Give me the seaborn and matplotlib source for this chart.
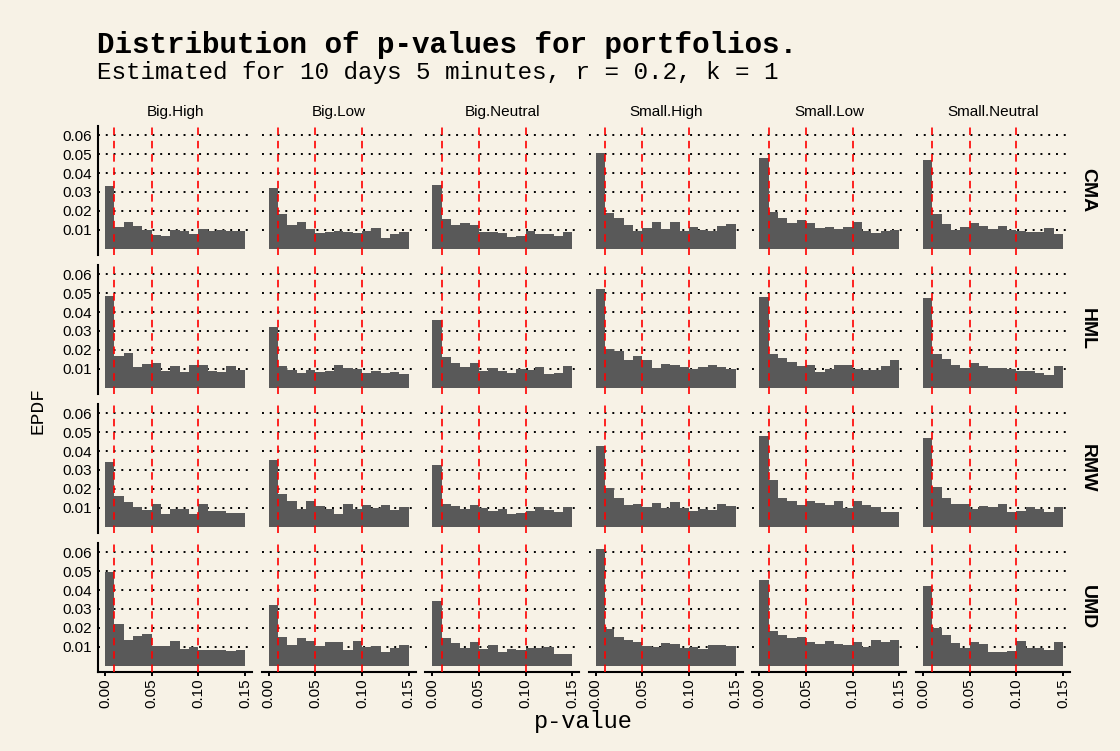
import matplotlib

matplotlib.use("Agg")

import matplotlib.pyplot as plt
import numpy as np
import pandas as pd
import seaborn as sns

BG = "#F7F2E6"
BAR = "#595959"
MONO = ["Liberation Mono", "DejaVu Sans Mono"]
SANS = ["Liberation Sans", "DejaVu Sans"]

PORTFOLIOS = ["Big.High", "Big.Low", "Big.Neutral", "Small.High", "Small.Low", "Small.Neutral"]
FACTORS = ["CMA", "HML", "RMW", "UMD"]
BIN_EDGES = [0.00, 0.01, 0.02, 0.03, 0.04, 0.05, 0.06, 0.07, 0.08,
             0.09, 0.10, 0.11, 0.12, 0.13, 0.14, 0.15]
CUTOFFS = [0.01, 0.05, 0.10]
Y_TICKS = [0.01, 0.02, 0.03, 0.04, 0.05, 0.06]
X_TICKS = [0.00, 0.05, 0.10, 0.15]
X_LABELS = ["0.00", "0.05", "0.10", "0.15"]

# epdf per bin (bins of width 0.01 from 0 to 0.15)
CMA_BIG_HIGH = [0.0331, 0.0114, 0.0141, 0.0120, 0.0099, 0.0072, 0.0067, 0.0099,
                0.0093, 0.0077, 0.0104, 0.0093, 0.0099, 0.0093, 0.0093]
CMA_BIG_LOW = [0.0320, 0.0183, 0.0125, 0.0141, 0.0104, 0.0083, 0.0088, 0.0093,
               0.0088, 0.0083, 0.0093, 0.0109, 0.0056, 0.0077, 0.0088]
CMA_BIG_NEUTRAL = [0.0336, 0.0157, 0.0125, 0.0136, 0.0125, 0.0088, 0.0088, 0.0083,
                   0.0062, 0.0067, 0.0093, 0.0077, 0.0077, 0.0067, 0.0088]
CMA_SMALL_HIGH = [0.0505, 0.0188, 0.0162, 0.0125, 0.0093, 0.0109, 0.0141, 0.0104,
                  0.0141, 0.0093, 0.0114, 0.0099, 0.0093, 0.0120, 0.0130]
CMA_SMALL_LOW = [0.0479, 0.0194, 0.0162, 0.0136, 0.0151, 0.0136, 0.0109, 0.0114,
                 0.0104, 0.0114, 0.0141, 0.0093, 0.0083, 0.0093, 0.0099]
CMA_SMALL_NEUTRAL = [0.0468, 0.0183, 0.0130, 0.0099, 0.0114, 0.0136, 0.0120, 0.0104,
                     0.0120, 0.0099, 0.0093, 0.0088, 0.0088, 0.0109, 0.0077]

HML_BIG_HIGH = [0.0484, 0.0167, 0.0183, 0.0109, 0.0125, 0.0130, 0.0088, 0.0114,
                0.0083, 0.0120, 0.0120, 0.0088, 0.0083, 0.0114, 0.0093]
HML_BIG_LOW = [0.0320, 0.0114, 0.0093, 0.0077, 0.0093, 0.0083, 0.0088, 0.0120,
               0.0104, 0.0099, 0.0077, 0.0088, 0.0077, 0.0083, 0.0072]
HML_BIG_NEUTRAL = [0.0357, 0.0162, 0.0130, 0.0109, 0.0130, 0.0088, 0.0104, 0.0088,
                   0.0077, 0.0099, 0.0093, 0.0109, 0.0072, 0.0077, 0.0114]
HML_SMALL_HIGH = [0.0521, 0.0204, 0.0194, 0.0146, 0.0167, 0.0146, 0.0104, 0.0125,
                  0.0120, 0.0109, 0.0099, 0.0109, 0.0120, 0.0109, 0.0099]
HML_SMALL_LOW = [0.0479, 0.0178, 0.0157, 0.0136, 0.0114, 0.0120, 0.0083, 0.0099,
                 0.0120, 0.0120, 0.0099, 0.0093, 0.0093, 0.0114, 0.0146]
HML_SMALL_NEUTRAL = [0.0474, 0.0178, 0.0151, 0.0120, 0.0104, 0.0130, 0.0114, 0.0104,
                     0.0104, 0.0099, 0.0088, 0.0088, 0.0077, 0.0067, 0.0114]

RMW_BIG_HIGH = [0.0342, 0.0162, 0.0130, 0.0104, 0.0088, 0.0120, 0.0067, 0.0093,
                0.0093, 0.0067, 0.0120, 0.0083, 0.0083, 0.0072, 0.0072]
RMW_BIG_LOW = [0.0352, 0.0173, 0.0136, 0.0093, 0.0136, 0.0109, 0.0093, 0.0067,
               0.0120, 0.0093, 0.0114, 0.0099, 0.0114, 0.0088, 0.0104]
RMW_BIG_NEUTRAL = [0.0326, 0.0120, 0.0109, 0.0093, 0.0114, 0.0099, 0.0083, 0.0093,
                   0.0067, 0.0072, 0.0083, 0.0104, 0.0088, 0.0077, 0.0104]
RMW_SMALL_HIGH = [0.0426, 0.0204, 0.0151, 0.0114, 0.0120, 0.0104, 0.0125, 0.0099,
                  0.0130, 0.0099, 0.0083, 0.0093, 0.0088, 0.0120, 0.0109]
RMW_SMALL_LOW = [0.0479, 0.0246, 0.0151, 0.0136, 0.0114, 0.0136, 0.0125, 0.0114,
                 0.0136, 0.0099, 0.0136, 0.0114, 0.0104, 0.0077, 0.0077]
RMW_SMALL_NEUTRAL = [0.0468, 0.0210, 0.0151, 0.0120, 0.0120, 0.0093, 0.0109, 0.0104,
                     0.0120, 0.0077, 0.0083, 0.0104, 0.0093, 0.0077, 0.0104]

UMD_BIG_HIGH = [0.0496, 0.0221, 0.0136, 0.0157, 0.0168, 0.0104, 0.0104, 0.0131,
                0.0088, 0.0100, 0.0083, 0.0083, 0.0083, 0.0078, 0.0083]
UMD_BIG_LOW = [0.0322, 0.0152, 0.0110, 0.0147, 0.0131, 0.0104, 0.0125, 0.0125,
               0.0083, 0.0131, 0.0099, 0.0104, 0.0072, 0.0094, 0.0110]
UMD_BIG_NEUTRAL = [0.0343, 0.0147, 0.0120, 0.0094, 0.0125, 0.0088, 0.0110, 0.0072,
                   0.0088, 0.0083, 0.0094, 0.0094, 0.0099, 0.0062, 0.0062]
UMD_SMALL_HIGH = [0.0618, 0.0194, 0.0152, 0.0136, 0.0125, 0.0104, 0.0099, 0.0120,
                  0.0115, 0.0094, 0.0099, 0.0088, 0.0110, 0.0110, 0.0104]
UMD_SMALL_LOW = [0.0454, 0.0184, 0.0163, 0.0147, 0.0152, 0.0125, 0.0115, 0.0131,
                 0.0115, 0.0110, 0.0125, 0.0099, 0.0136, 0.0125, 0.0136]
UMD_SMALL_NEUTRAL = [0.0422, 0.0200, 0.0163, 0.0120, 0.0094, 0.0125, 0.0115, 0.0072,
                     0.0072, 0.0078, 0.0131, 0.0094, 0.0094, 0.0083, 0.0125]

SERIES = {
    "CMA": [CMA_BIG_HIGH, CMA_BIG_LOW, CMA_BIG_NEUTRAL,
            CMA_SMALL_HIGH, CMA_SMALL_LOW, CMA_SMALL_NEUTRAL],
    "HML": [HML_BIG_HIGH, HML_BIG_LOW, HML_BIG_NEUTRAL,
            HML_SMALL_HIGH, HML_SMALL_LOW, HML_SMALL_NEUTRAL],
    "RMW": [RMW_BIG_HIGH, RMW_BIG_LOW, RMW_BIG_NEUTRAL,
            RMW_SMALL_HIGH, RMW_SMALL_LOW, RMW_SMALL_NEUTRAL],
    "UMD": [UMD_BIG_HIGH, UMD_BIG_LOW, UMD_BIG_NEUTRAL,
            UMD_SMALL_HIGH, UMD_SMALL_LOW, UMD_SMALL_NEUTRAL],
}


def armar_tabla() -> pd.DataFrame:
    centros = (np.array(BIN_EDGES[:-1]) + np.array(BIN_EDGES[1:])) / 2
    filas = []
    for factor in FACTORS:
        for portfolio, valores in zip(PORTFOLIOS, SERIES[factor]):
            for c, v in zip(centros, valores):
                filas.append({"factor": factor, "portfolio": portfolio,
                              "pvalue": c, "epdf": v})
    return pd.DataFrame(filas)


df = armar_tabla()

sns.set_theme(style="white")
plt.rcParams["font.family"] = SANS
plt.rcParams["figure.facecolor"] = BG
plt.rcParams["axes.facecolor"] = BG
plt.rcParams["text.color"] = "black"
plt.rcParams["axes.labelcolor"] = "black"
plt.rcParams["xtick.color"] = "black"
plt.rcParams["ytick.color"] = "black"

g = sns.FacetGrid(df, row="factor", col="portfolio", row_order=FACTORS,
                  col_order=PORTFOLIOS, sharex=True, sharey=True,
                  height=1.285, aspect=154 / 128.5, despine=False)
g.map_dataframe(sns.histplot, x="pvalue", weights="epdf", bins=BIN_EDGES,
                color=BAR, alpha=1, linewidth=0, edgecolor=None)

fig = g.figure
fig.set_size_inches(11.2, 7.51)
fig.subplots_adjust(left=98 / 1120, right=1070 / 1120, top=1 - 126 / 751,
                    bottom=1 - 671.5 / 751, wspace=0.062, hspace=0.0817)

for i, factor in enumerate(FACTORS):
    for j, portfolio in enumerate(PORTFOLIOS):
        ax = g.axes[i, j]
        ax.set_facecolor(BG)
        ax.set_title("")
        ax.set_xlabel("")
        ax.set_ylabel("")
        ax.set_xlim(-0.0075, 0.1575)
        ax.set_ylim(-0.0031, 0.0649)
        ax.set_yticks(Y_TICKS)
        ax.set_xticks(X_TICKS)
        ax.yaxis.grid(True, linestyle=(0, (1, 3)), color="black", linewidth=1.4)
        ax.xaxis.grid(False)
        ax.set_axisbelow(True)
        for x in CUTOFFS:
            ax.axvline(x, color="#FF0000", linestyle=(0, (4.5, 3.5)), linewidth=1.2, zorder=5)
        for lado in ["top", "right", "left", "bottom"]:
            ax.spines[lado].set_visible(False)
        if j == 0:
            ax.spines["left"].set_visible(True)
            ax.spines["left"].set_color("black")
            ax.spines["left"].set_linewidth(1.5)
            ax.set_yticklabels([f"{t:.2f}" for t in Y_TICKS])
            ax.tick_params(axis="y", length=0, pad=4, labelsize=11, labelcolor="black")
        else:
            ax.tick_params(axis="y", length=0, labelleft=False)
        if i == len(FACTORS) - 1:
            ax.spines["bottom"].set_visible(True)
            ax.spines["bottom"].set_color("black")
            ax.spines["bottom"].set_linewidth(1.5)
            ax.set_xticklabels(X_LABELS, rotation=90)
            ax.tick_params(axis="x", bottom=True, length=3, width=1.4, color="black",
                           pad=2, labelsize=11, labelcolor="black")
        else:
            ax.tick_params(axis="x", length=0, labelbottom=False)
        if i == 0:
            ax.set_title(portfolio, fontsize=11, color="black", pad=7, family=SANS)
        if j == len(PORTFOLIOS) - 1:
            ax.text(1.115, 0.5, factor, transform=ax.transAxes, rotation=-90,
                    ha="center", va="center", fontsize=14, fontweight="bold",
                    family=SANS, color="black")

fig.text(97 / 1120, 1 - 53 / 751, "Distribution of p-values for portfolios.",
         family=MONO, fontsize=21.1, fontweight="bold", va="baseline", ha="left",
         color="black")
fig.text(97 / 1120, 1 - 79 / 751, "Estimated for 10 days 5 minutes, r = 0.2, k = 1",
         family=MONO, fontsize=17.5, va="baseline", ha="left", color="black")
fig.text(583 / 1120, 1 - 728 / 751, "p-value", family=MONO, fontsize=17,
         va="baseline", ha="center", color="black")
fig.text(38 / 1120, 1 - 410 / 751, "EPDF", family=MONO, fontsize=14,
         rotation=90, va="center", ha="center", color="black")

fig.savefig("out.png", dpi=100, facecolor=BG)
plt.close(fig)
